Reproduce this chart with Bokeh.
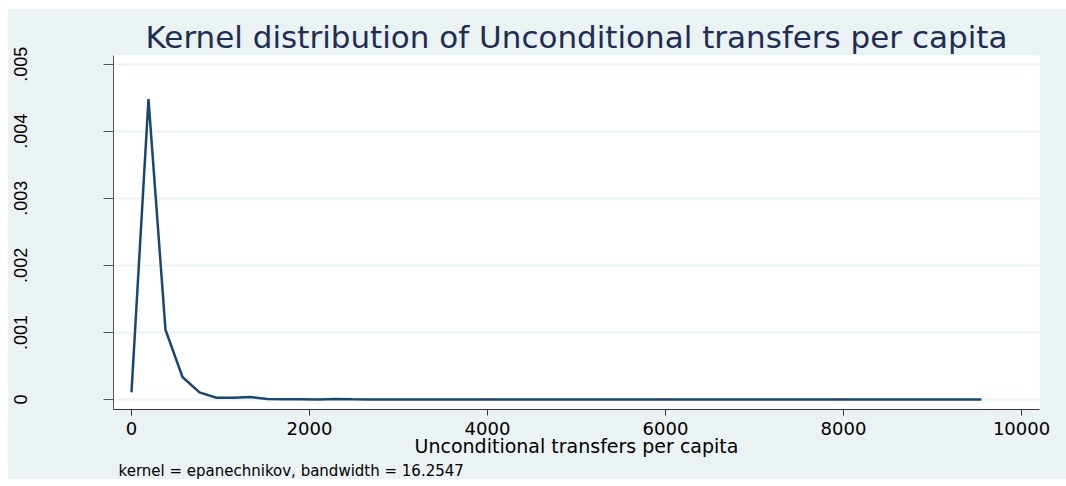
from bokeh.plotting import figure
from bokeh.models import Range1d, FixedTicker, Title
from bokeh.embed import file_html
from bokeh.resources import INLINE

# Kernel density estimate evaluation points and densities
x_points = [0, 191, 382, 573, 764, 955, 1146, 1337, 1528, 1719, 1910, 2101, 2292,
            2483, 2674, 2865, 3056, 3247, 3438, 3629, 3820, 4011, 4202, 4393, 4584,
            4775, 4966, 5157, 5348, 5539, 5730, 5921, 6112, 6303, 6494, 6685, 6876,
            7067, 7258, 7449, 7640, 7831, 8022, 8213, 8404, 8595, 8786, 8977, 9168,
            9359, 9550]
density = [0.000105, 0.00448, 0.00104, 0.000335, 0.000105, 0.000025, 0.000025,
           0.000035, 0.000005, 0.000002, 0.000002, 0.0, 0.000005, 0.000002,
           0.0, 0.0, 0.0, 0.0, 0.0, 0.0, 0.0, 0.0, 0.0, 0.0, 0.0, 0.0, 0.0, 0.0,
           0.0, 0.0, 0.0, 0.0, 0.0, 0.0, 0.0, 0.0, 0.0, 0.0, 0.0, 0.0, 0.0, 0.0,
           0.0, 0.0, 0.0, 0.0, 0.0, 0.0, 0.0, 0.0, 0.0]

x_ticks = [0, 2000, 4000, 6000, 8000, 10000]
y_ticks = [0.0, 0.001, 0.002, 0.003, 0.004, 0.005]
y_tick_labels = ["0", ".001", ".002", ".003", ".004", ".005"]

title_text = "Kernel distribution of Unconditional transfers per capita"
x_label = "Unconditional transfers per capita"
note_text = "kernel = epanechnikov, bandwidth = 16.2547"

BG = "#EAF2F3"
NAVY = "#1A476F"
TITLE_COLOR = "#1E2D53"
FONT = "DejaVu Sans"

p = figure(frame_width=926, frame_height=354, output_backend="svg",
           toolbar_location=None,
           x_range=Range1d(-202, 10202), y_range=Range1d(-0.00015, 0.00513),
           min_border_left=106, min_border_right=27, min_border_top=47,
           min_border_bottom=60)
p.margin = (8, 0, 0, 7)

p.background_fill_color = "white"
p.border_fill_color = BG
p.outline_line_color = None

p.title.text = title_text
p.title.align = "center"
p.title.text_font = FONT
p.title.text_font_size = "31px"
p.title.text_font_style = "normal"
p.title.text_color = TITLE_COLOR
p.title.standoff = 2

p.line(x_points, density, line_color=NAVY, line_width=2.5)

# axes
xa = p.xaxis[0]
xa.ticker = FixedTicker(ticks=x_ticks)
xa.axis_label = x_label
xa.axis_label_text_font = FONT
xa.axis_label_text_font_size = "19px"
xa.axis_label_text_font_style = "normal"
xa.axis_label_text_color = "black"
xa.axis_label_standoff = -3
xa.major_label_text_font = FONT
xa.major_label_text_font_size = "18px"
xa.major_label_text_color = "black"
xa.major_label_standoff = 6
xa.major_tick_out = 6
xa.major_tick_in = 0
xa.minor_tick_out = 0
xa.minor_tick_in = 0
xa.axis_line_color = "#333333"
xa.major_tick_line_color = "#333333"

ya = p.yaxis[0]
ya.ticker = FixedTicker(ticks=y_ticks)
ya.major_label_overrides = {t: lab for t, lab in zip(y_ticks, y_tick_labels)}
ya.major_label_orientation = "vertical"
ya.major_label_text_font = "Liberation Sans"
ya.major_label_text_font_size = "18px"
ya.major_label_text_color = "black"
ya.major_label_standoff = 76
ya.major_tick_out = 10
ya.major_tick_in = 0
ya.minor_tick_out = 0
ya.minor_tick_in = 0
ya.axis_line_color = "#555555"
ya.major_tick_line_color = "#555555"

p.xgrid.grid_line_color = None
p.ygrid.ticker = FixedTicker(ticks=y_ticks)
p.ygrid.grid_line_color = BG
p.ygrid.grid_line_width = 2

note = Title(text=note_text, align="left", text_font=FONT, text_font_size="15px",
             text_font_style="normal", text_color="black", offset=5, standoff=0)
p.add_layout(note, "below")

with open("out.html", "w") as f:
    f.write(file_html(p, INLINE))
